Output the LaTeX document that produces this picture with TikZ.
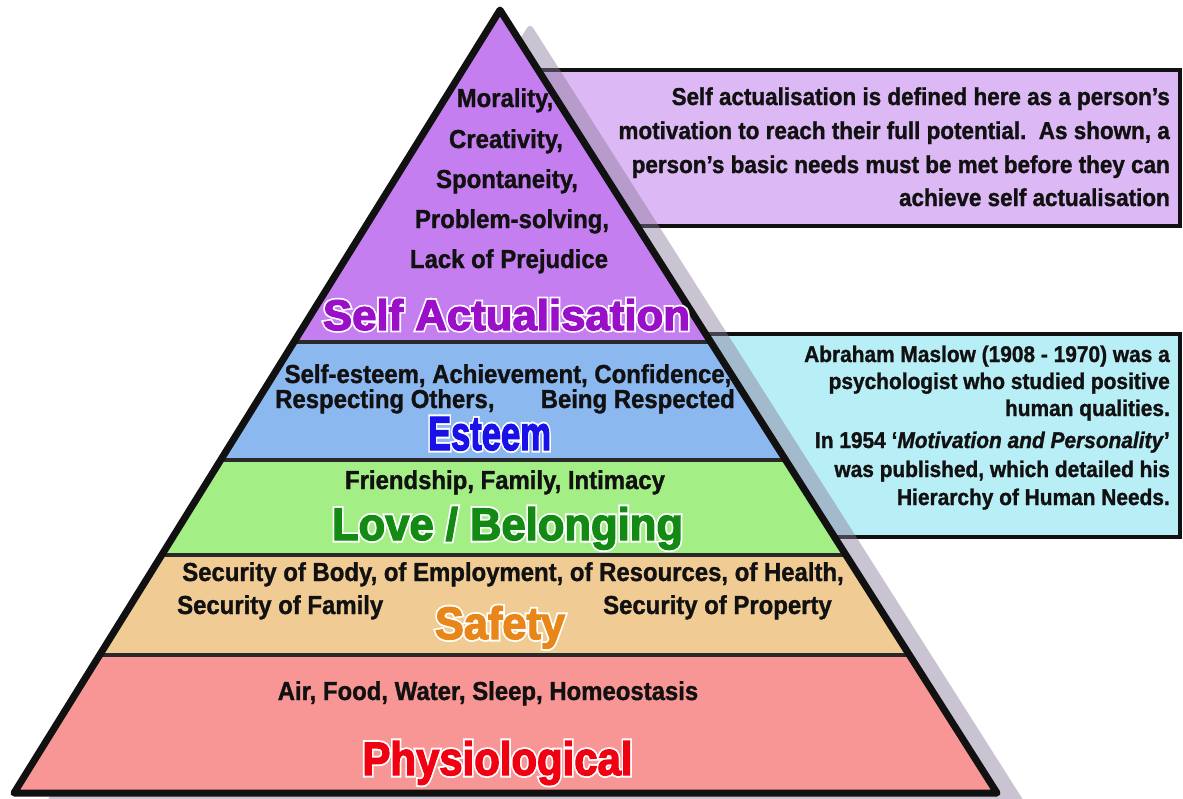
\documentclass[tikz,border=0pt]{standalone}
\usepackage{fontspec}
\usepackage{graphicx}
\newfontfamily\bodyfont{Liberation Sans}[FakeStretch=0.92,FakeBold=1.2]
\newfontfamily\headfont{Liberation Sans}[FakeBold=3]
\newfontfamily\headhalo{Liberation Sans}[FakeBold=11]
\definecolor{bandA}{HTML}{C57EF0}
\definecolor{bandB}{HTML}{8CB8F0}
\definecolor{bandC}{HTML}{A4EE86}
\definecolor{bandD}{HTML}{F0CC94}
\definecolor{bandE}{HTML}{F89595}
\definecolor{boxA}{HTML}{DCB8F5}
\definecolor{boxB}{HTML}{B8EEF6}
\definecolor{shadowc}{HTML}{8A7A9A}
\definecolor{headA}{HTML}{9A10C8}
\definecolor{headB}{HTML}{1A10E8}
\definecolor{headC}{HTML}{138A13}
\definecolor{headD}{HTML}{E8861A}
\definecolor{headE}{HTML}{F00010}
\definecolor{ink}{HTML}{111111}
\tikzset{
  bodytxt/.style={font={\bodyfont\bfseries\fontsize{26}{30}\selectfont}, text=ink, inner sep=0pt, anchor=base},
  boxtxtA/.style={font={\bodyfont\bfseries\fontsize{24.4}{28}\selectfont}, text=ink, inner sep=0pt, anchor=base east},
  boxtxtB/.style={font={\bodyfont\bfseries\fontsize{22.7}{26}\selectfont}, text=ink, inner sep=0pt, anchor=base east},
  headtxt/.style={font={\headfont\bfseries\fontsize{40}{44}\selectfont}, inner sep=0pt, anchor=base},
  halotxt/.style={font={\headhalo\bfseries\fontsize{40}{44}\selectfont}, text=white, inner sep=0pt, anchor=base},
  infobox/.style={draw=ink, line width=4pt},
  bandline/.style={draw=ink!90, line width=3.5pt},
  outline/.style={draw=ink, line width=7pt, line join=round},
}
\newcommand\headlabel[7]{%
  \node[halotxt] (#1h) at (#2,#3) {\resizebox{#4pt}{#5pt}{#7}};
  \node[headtxt,text=#6] (#1) at (#2,#3) {\resizebox{#4pt}{#5pt}{#7}};}
\begin{document}
\begin{tikzpicture}[x=1pt,y=-1pt]
\useasboundingbox (0,0) rectangle (1183,798);
\fill[white] (0,0) rectangle (1183,798);
\coordinate (A) at (500,10);
\coordinate (BL) at (14,793);
\coordinate (BR) at (997,793);
% info boxes
\path[infobox, fill=boxA] (520,70) rectangle (1180,226);
\path[infobox, fill=boxB] (600,334) rectangle (1180,537);
% shadow
\fill[shadowc, opacity=0.45, rounded corners=6pt] (530,23) -- (44,806) -- (1027,806) -- cycle;
% pyramid bands
\begin{scope}
  \clip (A) -- (BL) -- (BR) -- cycle;
  \fill[bandA] (0,0) rectangle (1183,342);
  \fill[bandB] (0,342) rectangle (1183,460);
  \fill[bandC] (0,460) rectangle (1183,555);
  \fill[bandD] (0,555) rectangle (1183,655);
  \fill[bandE] (0,655) rectangle (1183,798);
  \draw[bandline] (0,342) -- (1183,342);
  \draw[bandline] (0,460) -- (1183,460);
  \draw[bandline] (0,555) -- (1183,555);
  \draw[bandline] (0,655) -- (1183,655);
\end{scope}
\draw[outline] (A) -- (BL) -- (BR) -- cycle;
% self actualisation list
\node[bodytxt] (m1) at (505,107) {Morality,};
\node[bodytxt] (m2) at (506,148) {Creativity,};
\node[bodytxt] (m3) at (507,188) {Spontaneity,};
\node[bodytxt] (m4) at (512,228) {Problem-solving,};
\node[bodytxt] (m5) at (509,268) {Lack of Prejudice};
% esteem
\node[bodytxt] (e1) at (508,383) {Self-esteem, Achievement, Confidence,};
\node[bodytxt, anchor=base west] (e2) at (275,408) {Respecting Others,};
\node[bodytxt, anchor=base east] (e3) at (735,408) {Being Respected};
% love
\node[bodytxt] (l1) at (505,489) {Friendship, Family, Intimacy};
% safety
\node[bodytxt] (s1) at (513,581) {Security of Body, of Employment, of Resources, of Health,};
\node[bodytxt, anchor=base west] (s2) at (177,614) {Security of Family};
\node[bodytxt, anchor=base east] (s3) at (832,614) {Security of Property};
% physiological
\node[bodytxt] (p1) at (488,700) {Air, Food, Water, Sleep, Homeostasis};
% headings
\headlabel{hA}{506.5}{330}{367}{31}{headA}{Self Actualisation}
\headlabel{hB}{489.5}{450}{123}{33}{headB}{Esteem}
\headlabel{hC}{507.5}{540}{351}{33}{headC}{Love / Belonging}
\headlabel{hD}{500}{639}{130}{33}{headD}{Safety}
\headlabel{hE}{497.5}{775}{270}{34}{headE}{Physiological}
% box A text
\node[boxtxtA] (a1) at (1170,105) {Self actualisation is defined here as a person’s};
\node[boxtxtA] (a2) at (1170,139) {motivation to reach their full potential.\ \ As shown, a};
\node[boxtxtA] (a3) at (1170,173) {person’s basic needs must be met before they can};
\node[boxtxtA] (a4) at (1170,206) {achieve self actualisation};
% box B text
\node[boxtxtB] (b1) at (1170,362) {Abraham Maslow (1908 - 1970) was a};
\node[boxtxtB] (b2) at (1170,389) {psychologist who studied positive};
\node[boxtxtB] (b3) at (1170,416) {human qualities.};
\node[boxtxtB] (b4) at (1170,448) {In 1954 ‘\textit{Motivation and Personality}’};
\node[boxtxtB] (b5) at (1170,477) {was published, which detailed his};
\node[boxtxtB] (b6) at (1170,505) {Hierarchy of Human Needs.};
\end{tikzpicture}
\end{document}
